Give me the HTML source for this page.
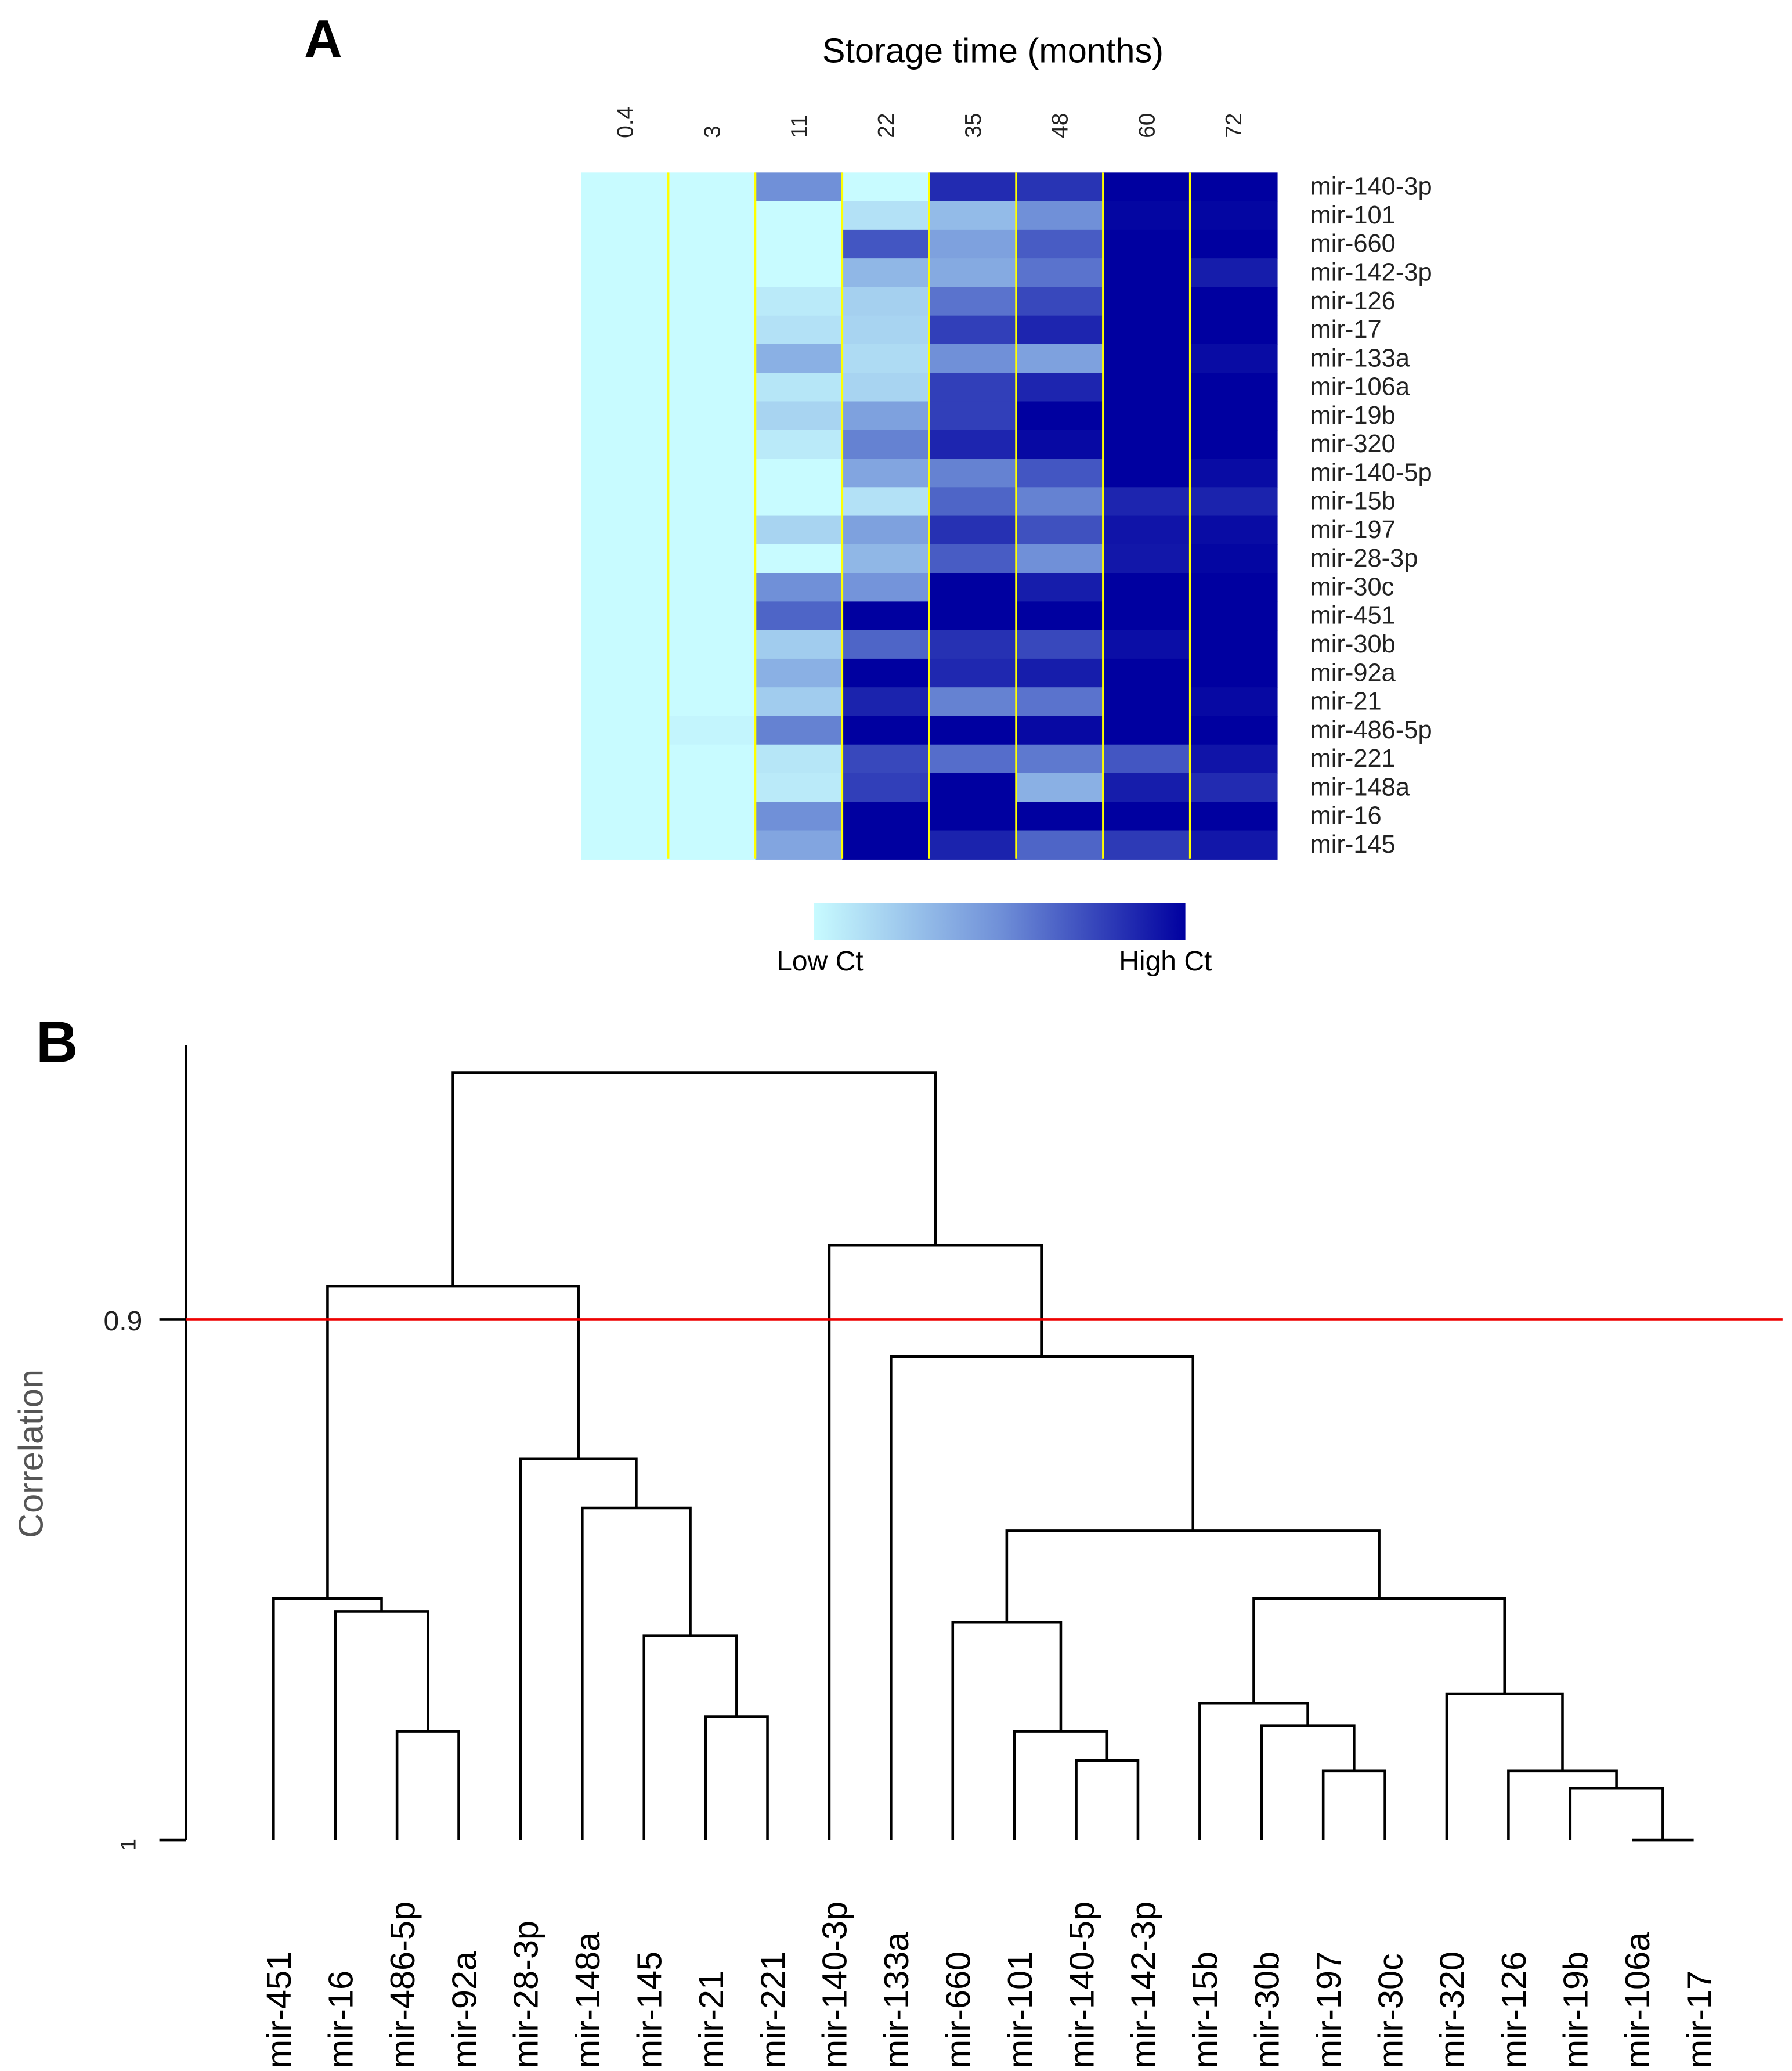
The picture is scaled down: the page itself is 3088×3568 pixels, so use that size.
<!DOCTYPE html>
<html><head><meta charset="utf-8"><style>
html,body{margin:0;padding:0;background:#fff;}
svg{display:block;}
text{font-family:"Liberation Sans",sans-serif;}
</style></head><body>
<svg id="fig" width="3088" height="3568" viewBox="0 0 1350 1560" xmlns="http://www.w3.org/2000/svg">
<text x="229" y="43" font-size="40" font-weight="bold">A</text>
<text x="748" y="47" font-size="26" text-anchor="middle">Storage time (months)</text>
<g id="heat"></g>
<g id="cbar"></g>
<text x="27" y="800" font-size="44" font-weight="bold">B</text>
<g id="dend"></g>
</svg>
<script>
const timepoints = ["0.4","3","11","22","35","48","60","72"];
const heatRows = ["mir-140-3p","mir-101","mir-660","mir-142-3p","mir-126","mir-17","mir-133a","mir-106a","mir-19b","mir-320","mir-140-5p","mir-15b","mir-197","mir-28-3p","mir-30c","mir-451","mir-30b","mir-92a","mir-21","mir-486-5p","mir-221","mir-148a","mir-16","mir-145"];
const heatValues = [
[0,0,0.5,0,0.85,0.82,1,1],
[0,0,0,0.12,0.3,0.5,0.98,0.98],
[0,0,0,0.7,0.42,0.68,1,1],
[0,0,0,0.32,0.38,0.6,1,0.9],
[0,0,0.08,0.2,0.6,0.75,1,1],
[0,0,0.12,0.18,0.78,0.87,1,1],
[0,0,0.35,0.15,0.5,0.42,1,0.96],
[0,0,0.1,0.18,0.78,0.87,1,1],
[0,0,0.18,0.42,0.78,1,1,1],
[0,0,0.08,0.55,0.87,0.97,1,1],
[0,0,0,0.4,0.55,0.7,1,0.96],
[0,0,0,0.12,0.65,0.55,0.87,0.88],
[0,0,0.18,0.42,0.83,0.72,0.93,0.96],
[0,0,0,0.32,0.68,0.5,0.92,0.98],
[0,0,0.5,0.48,1,0.9,1,1],
[0,0,0.65,1,1,1,1,1],
[0,0,0.22,0.65,0.83,0.75,0.95,1],
[0,0,0.35,1,0.86,0.9,1,1],
[0,0,0.22,0.88,0.55,0.6,1,0.97],
[0,0.03,0.55,1,1,0.97,1,1],
[0,0,0.1,0.75,0.62,0.58,0.7,0.93],
[0,0,0.08,0.78,1,0.35,0.9,0.85],
[0,0,0.5,1,1,1,1,1],
[0,0,0.4,1,0.88,0.65,0.8,0.92]];
const leafLabels = ["mir-451","mir-16","mir-486-5p","mir-92a","mir-28-3p","mir-148a","mir-145","mir-21","mir-221","mir-140-3p","mir-133a","mir-660","mir-101","mir-140-5p","mir-142-3p","mir-15b","mir-30b","mir-197","mir-30c","mir-320","mir-126","mir-19b","mir-106a","mir-17"];
// merges: [childA, childB, correlation]; ids 0-23 leaves, 24+ merges in order
const mergeA = [2,1,0,7,6,5,4,26,13,12,11,17,16,15,22,21,20,19,37,34,10,9,31];
const mergeB = [3,24,25,8,27,28,29,30,14,32,33,18,35,36,23,38,39,40,41,42,43,44,45];
const mergeH = [0.9791,0.9561,0.9536,0.9763,0.9607,0.9362,0.9268,0.8936,0.9847,0.9791,0.9582,0.9867,0.9781,0.9737,1.0,0.9901,0.9867,0.9719,0.9536,0.9406,0.9071,0.8857,0.8526];
const corrTicks = [1,0.9];
const cutoff = 0.9;

const NS="http://www.w3.org/2000/svg";
function mk(tag,attrs,parent){const e=document.createElementNS(NS,tag);for(const k in attrs)e.setAttribute(k,attrs[k]);parent.appendChild(e);return e;}
function lerp(a,b,t){return a+(b-a)*t;}
function col(v){const c0=[200,251,255],c1=[112,144,216],c2=[0,0,160];let a,b,t;if(v<0.5){a=c0;b=c1;t=v/0.5;}else{a=c1;b=c2;t=(v-0.5)/0.5;}return `rgb(${Math.round(lerp(a[0],b[0],t))},${Math.round(lerp(a[1],b[1],t))},${Math.round(lerp(a[2],b[2],t))})`;}

// heatmap
const heat=document.getElementById('heat');
const hx0=438,hx1=962,hy0=130,hy1=647;
const cw=(hx1-hx0)/timepoints.length, rh=(hy1-hy0)/heatRows.length;
heatValues.forEach((row,i)=>{row.forEach((v,j)=>{
 const r=mk('rect',{x:hx0+j*cw,y:hy0+i*rh,width:cw+0.5,height:rh+0.5,fill:col(v)},heat);
 
 
});
 const t=mk('text',{x:987,y:hy0+(i+0.5)*rh+6,'font-size':19,fill:'#222'},heat);t.textContent=heatRows[i];
 
 
});
for(let j=1;j<timepoints.length;j++){const l=mk('line',{x1:hx0+j*cw,x2:hx0+j*cw,y1:hy0,y2:hy1,stroke:'#ffff00','stroke-width':1.5},heat);
 
 }
timepoints.forEach((tp,j)=>{const x=hx0+(j+0.5)*cw+6;const t=mk('text',{x:x,y:104,'font-size':17,fill:'#222',transform:`rotate(-90 ${x} 104)`},heat);t.textContent=tp;
 
 });

// color bar
const cb=document.getElementById('cbar');
const defs=mk('defs',{},cb);const g=mk('linearGradient',{id:'grad',x1:0,x2:1,y1:0,y2:0},defs);
[0,0.25,0.5,0.75,1].forEach(s=>mk('stop',{offset:s,'stop-color':col(s)},g));
mk('rect',{x:613,y:680,width:280,height:28,fill:'url(#grad)'},cb);
let t1=mk('text',{x:585,y:731,'font-size':21},cb);t1.textContent='Low Ct';
let t2=mk('text',{x:843,y:731,'font-size':21},cb);t2.textContent='High Ct';

// dendrogram
const d=document.getElementById('dend');
const lx0=206,lx1=1276;
function xL(i){return lx0+i*(lx1-lx0)/(leafLabels.length-1);}
function yC(c){return 1386-(1-c)*3920;}
mk('line',{x1:140,x2:140,y1:787,y2:1386,stroke:'#000','stroke-width':2},d);
corrTicks.forEach(c=>{mk('line',{x1:120,x2:140,y1:yC(c),y2:yC(c),stroke:'#000','stroke-width':2},d);
 const t=mk('text',{x:78,y:yC(c)+8,'font-size':21,fill:'#222'},d);t.textContent=String(c);
 if(c===1){t.setAttribute('transform',`rotate(-90 96 ${yC(c)})`);t.setAttribute('x',88);t.setAttribute('y',yC(c)+6);t.setAttribute('font-size',16);}
 
 });
const yt=mk('text',{x:32,y:1095,'font-size':26,fill:'#555','text-anchor':'middle',transform:'rotate(-90 32 1095)'},d);yt.textContent='Correlation';


const pos={},ht={};
leafLabels.forEach((n,i)=>{pos[i]=xL(i);ht[i]=1;
 const x=xL(i)+13;const t=mk('text',{x:x,y:1558,'font-size':26,fill:'#000',transform:`rotate(-90 ${x} 1558)`,style:'font-family:"Liberation Sans Narrow","Liberation Sans",sans-serif'},d);t.textContent=n;
 
 });
mergeA.forEach((a,k)=>{const b=mergeB[k],h=mergeH[k],id=24+k;const yh=yC(h);
 const p=mk('path',{d:`M${pos[a]},${yC(ht[a])}V${yh}H${pos[b]}V${yC(ht[b])}`,fill:'none',stroke:'#000','stroke-width':2},d);
 
 
 pos[id]=(pos[a]+pos[b])/2;ht[id]=h;});
const red=mk('line',{x1:140,x2:1343,y1:yC(cutoff),y2:yC(cutoff),stroke:'#ee0000','stroke-width':2},d);


</script>
</body></html>
